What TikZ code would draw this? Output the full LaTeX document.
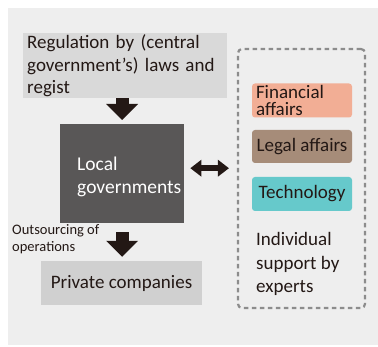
\documentclass[tikz,border=0pt]{standalone}
\usepackage{fontspec}
\setmainfont{Carlito}
\usetikzlibrary{arrows.meta}
\definecolor{panel}{HTML}{EEEEEE}
\definecolor{topgray}{HTML}{D9D9D9}
\definecolor{privgray}{HTML}{D0D0D0}
\definecolor{localgray}{HTML}{595757}
\definecolor{darkarrow}{HTML}{231815}
\definecolor{dashgray}{HTML}{8C8C8C}
\definecolor{finc}{HTML}{F2AE95}
\definecolor{legc}{HTML}{A68C79}
\definecolor{tecc}{HTML}{66C9CB}
\tikzset{
  bigfont/.style={font=\fontsize{19}{22.5}\selectfont},
  blockarrow/.style={draw=darkarrow, line width=13pt,
     -{Triangle[length=16pt,width=32pt,line width=0pt]}},
  dblarrow/.style={draw=darkarrow, line width=6pt,
     {Triangle[length=11pt,width=17pt,line width=0pt]}-{Triangle[length=11pt,width=17pt,line width=0pt]}},
  tagbox/.style={rounded corners=3pt, minimum width=100pt, inner xsep=4pt, inner ysep=0pt,
     bigfont, text=darkarrow},
}
\begin{document}
\begin{tikzpicture}[x=1pt,y=-1pt]
\useasboundingbox (0,0) rectangle (378,347);
\fill[white] (0,0) rectangle (378,347);
\fill[panel] (8,8) rectangle (378,345);

\node[fill=topgray, anchor=north west, minimum width=202pt, minimum height=65pt,
      text width=196pt, inner xsep=4pt, inner ysep=0pt, align=left, bigfont, text=darkarrow]
      (reg) at (23,33) {Regulation by (central\\ government’s) laws and\\ regist};

\node[fill=localgray, anchor=north west, minimum width=124pt, minimum height=99pt, inner sep=0pt]
      (local) at (60,124) {};
\node[anchor=west, align=left, text=white, inner sep=0pt, bigfont,
      font=\fontsize{19.5}{23}\selectfont] (localtxt) at (77,176.5) {Local\\ governments};

\node[fill=privgray, minimum width=161pt, minimum height=44pt, inner sep=0pt, bigfont, text=darkarrow]
      (priv) at (121.5,283) {Private companies};

\node[anchor=west, align=left, inner sep=0pt, text=darkarrow,
      font=\fontsize{14.5}{17}\selectfont] (outs) at (12,239.5) {Outsourcing of\\ operations};

\node[draw=dashgray, dash pattern=on 4.5pt off 3.5pt, line width=2.2pt, rounded corners=4pt,
      minimum width=127pt, minimum height=259pt, inner sep=0pt] (support) at (301.5,178.5) {};

\node[tagbox, fill=finc, minimum height=34pt, text width=92pt, align=left,
      font=\fontsize{19}{17.5}\selectfont] (fin) at (302,100.5) {Financial\\ affairs};
\node[tagbox, fill=legc, minimum height=33pt] (leg) at (302,146.5) {Legal affairs};
\node[tagbox, fill=tecc, minimum height=34pt] (tec) at (302,194) {Technology};

\node[anchor=west, align=left, inner sep=0pt, text=darkarrow,
      font=\fontsize{19}{23.5}\selectfont] (indiv) at (256,264) {Individual\\ support by\\ experts};

\draw[blockarrow, shorten >=4pt] (reg.south -| local.north) -- (local.north);
\draw[blockarrow, shorten <=9pt, shorten >=4pt] (local.south) -- (priv.north -| local.south);
\draw[dblarrow, shorten <=6pt, shorten >=8pt] ([yshift=5.5pt]local.east) -- ([yshift=5.5pt]local.east -| support.west);
\end{tikzpicture}
\end{document}
